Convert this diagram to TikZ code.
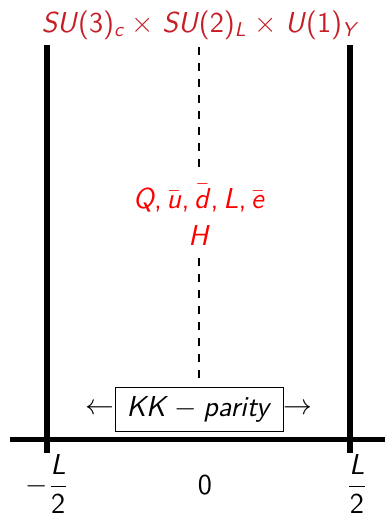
\documentclass[tikz,border=0pt]{standalone}
\usepackage{amsmath}
\definecolor{darkred}{RGB}{198,30,38}
\newcommand\vi[1]{\textsf{\itshape #1}}
\newcommand\vu[1]{\textsf{\upshape #1}}
\newcommand\vsub[1]{\textsubscript{\sffamily\itshape #1}}
\newcommand\vbar[1]{$\bar{\text{\vi{#1}}}$}
\begin{document}
\begin{tikzpicture}[x=0.5pt,y=-0.5pt,
  txt/.style={font=\fontsize{14.4}{17}\selectfont\sffamily, inner sep=0pt},
  wall/.style={line width=2.6pt},
  axisline/.style={line width=2.8pt},
  dashline/.style={line width=1pt, dash pattern=on 4pt off 4pt},
  parbox/.style={draw, line width=0.5pt, minimum width=84pt, minimum height=22pt, inner xsep=2pt, inner ysep=0pt}]
\useasboundingbox (0,0) rectangle (385,515);
% walls and axis
\coordinate (lt) at (47,45);
\coordinate (lb) at (47,453);
\coordinate (rt) at (350,45);
\coordinate (rb) at (350,453);
\coordinate (al) at (10,439.5);
\coordinate (ar) at (385,439.5);
\draw[wall] (lt) -- (lb);
\draw[wall] (rt) -- (rb);
\draw[axisline] (al) -- (ar);
% dashed brane line
\coordinate (d1) at (199,47);
\coordinate (d2) at (199,170);
\coordinate (d3) at (199,258);
\coordinate (d4) at (199,380);
\draw[dashline] (d1) -- (d2);
\draw[dashline] (d3) -- (d4);
% texts
\node[txt, text=darkred, anchor=base] (gauge) at (199,32)
  {\vi{SU}\vu{(3)}\vsub{c}\;$\times$\;\vi{SU}\vu{(2)}\vsub{L}\;$\times$\;\vi{U}\vu{(1)}\vsub{Y}};
\node[txt, text=red, anchor=base] (fields) at (199,208)
  {\vi{Q},\,\vbar{u},\,\vbar{d},\,\vi{L},\,\vbar{e}};
\node[txt, text=red, anchor=base] (higgs) at (199,245) {\vi{H}};
\node[txt, parbox] (kk) at (199,409) {\vi{KK}\:$-$\:\vi{parity}};
\node[txt, anchor=east] (la) at (kk.west) {$\leftarrow$};
\node[txt, anchor=west] (ra) at (kk.east) {$\rightarrow$};
\node[txt] (lm) at (47,484) {$-\dfrac{\text{\vi{L}}}{\text{\vu{2}}}$};
\node[txt] (zero) at (205,485) {\vu{0}};
\node[txt] (lp) at (357,484) {$\dfrac{\text{\vi{L}}}{\text{\vu{2}}}$};
\end{tikzpicture}
\end{document}
